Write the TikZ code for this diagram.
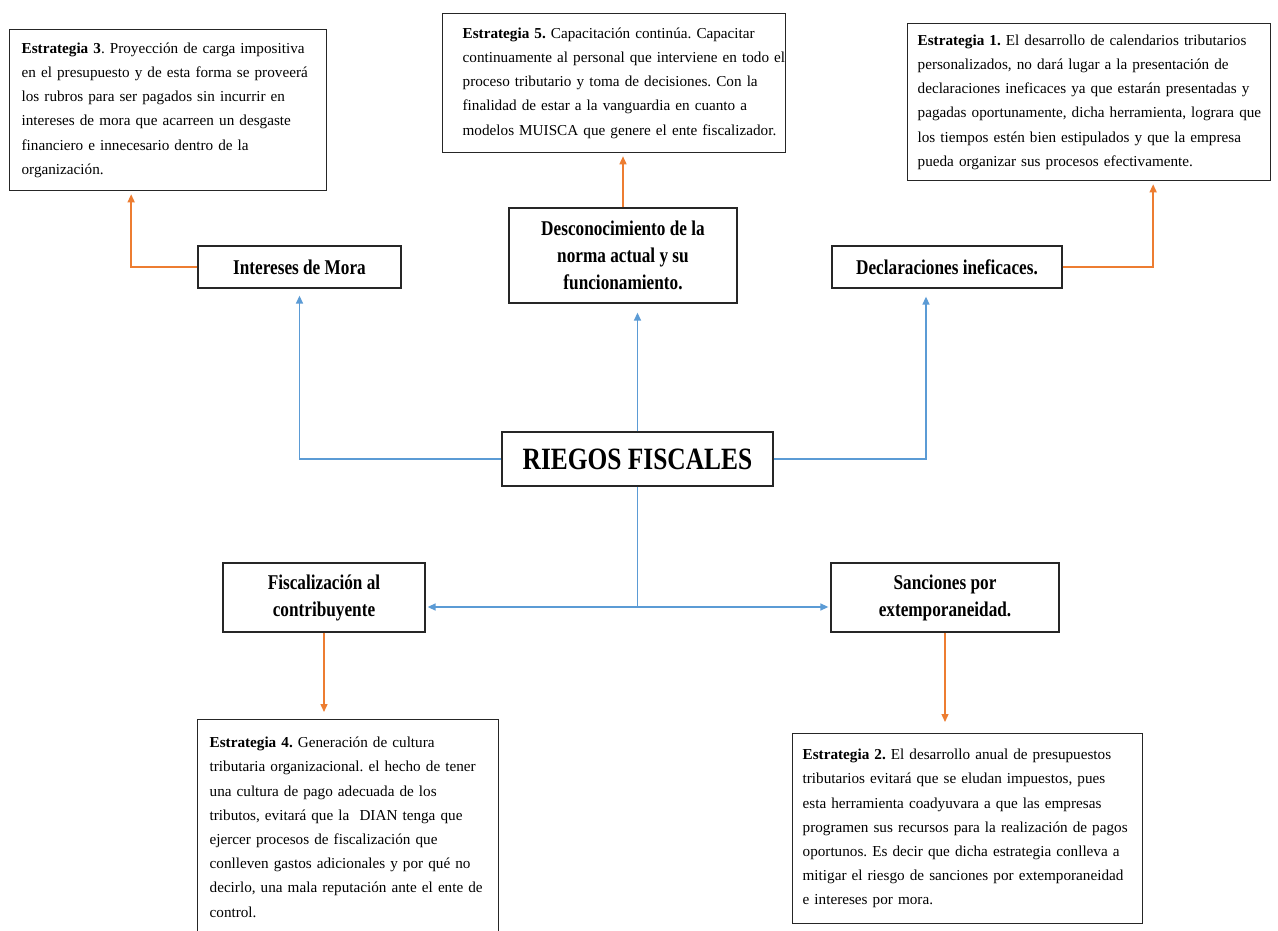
\documentclass[tikz,border=0pt]{standalone}
\usepackage{fontspec}
\setmainfont{Liberation Serif}
\newfontfamily\lblfont{Liberation Serif}[FakeStretch=0.82]
\usepackage{tikz}
\usetikzlibrary{positioning,arrows.meta,calc}
\definecolor{riskblue}{HTML}{5B9BD5}
\definecolor{stratorange}{HTML}{ED7D31}
\frenchspacing

\begin{document}
\begin{tikzpicture}[x=1pt,y=-1pt,
  strat/.style={draw=black!85,line width=1.3pt,anchor=north west,align=left,inner xsep=0pt,inner ysep=4pt,font=\fontsize{15.2}{24.2}\selectfont,execute at begin node={\leftskip=#1pt\hyphenpenalty=10000\relax}},
  strat/.default=12,
  risk/.style={draw=black!85,line width=1.3pt,align=center,inner sep=2pt,font=\lblfont\bfseries\fontsize{21}{27}\selectfont},
  blueln/.style={draw=riskblue,line width=1.4pt},
  orangeln/.style={draw=stratorange,line width=1.4pt},
  arr/.style={-{Triangle[length=8pt,width=7pt]}}]
\useasboundingbox[fill=white] (0,0) rectangle (1278,931);
\node[risk,minimum width=271,minimum height=54,font=\lblfont\bfseries\fontsize{31}{36}\selectfont] (riesgo) at (637.5,459) {RIEGOS FISCALES};
\node[risk,minimum width=203,minimum height=42] (mora) at (299.5,267) {Intereses de Mora};
\node[risk,minimum width=228,minimum height=95] (desc) at (623,255.5) {Desconocimiento de la\\norma actual y su\\funcionamiento.};
\node[risk,minimum width=230,minimum height=42] (decl) at (947,267) {Declaraciones ineficaces.};
\node[risk,minimum width=202,minimum height=69] (fisc) at (324,597.5) {Fiscalización al\\contribuyente};
\node[risk,minimum width=228,minimum height=69] (sanc) at (945,597.5) {Sanciones por\\extemporaneidad.};
\node[strat,minimum height=161,text width=317] (s3) at (9,29) {\textbf{Estrategia 3}. Proyección de carga impositiva\\en el presupuesto y de esta forma se proveerá\\los rubros para ser pagados sin incurrir en\\intereses de mora que acarreen un desgaste\\financiero e innecesario dentro de la\\organización.};
\node[strat=20,minimum height=139,text width=343] (s5) at (442,13) {\textbf{Estrategia 5.} Capacitación continúa. Capacitar\\continuamente al personal que interviene en todo el\\proceso tributario y toma de decisiones. Con la\\finalidad de estar a la vanguardia en cuanto a\\modelos MUISCA que genere el ente fiscalizador.};
\node[strat=10,minimum height=157,text width=363] (s1) at (907,23) {\textbf{Estrategia 1.} El desarrollo de calendarios tributarios\\personalizados, no dará lugar a la presentación de\\declaraciones ineficaces ya que estarán presentadas y\\pagadas oportunamente, dicha herramienta, lograra que\\los tiempos estén bien estipulados y que la empresa\\pueda organizar sus procesos efectivamente.};
\node[strat,minimum height=215,text width=301] (s4) at (197,719) {\textbf{Estrategia 4.} Generación de cultura\\tributaria organizacional. el hecho de tener\\una cultura de pago adecuada de los\\tributos, evitará que la\ \ DIAN tenga que\\ejercer procesos de fiscalización que\\conlleven gastos adicionales y por qué no\\decirlo, una mala reputación ante el ente de\\control.};
\node[strat=10,minimum height=190,text width=350] (s2) at (792,733) {\textbf{Estrategia 2.} El desarrollo anual de presupuestos\\tributarios evitará que se eludan impuestos, pues\\esta herramienta coadyuvara a que las empresas\\programen sus recursos para la realización de pagos\\oportunos. Es decir que dicha estrategia conlleva a\\mitigar el riesgo de sanciones por extemporaneidad\\e intereses por mora.};
\coordinate (split) at (637.5,607);
\draw[blueln,arr,shorten >=7pt] (riesgo.west) -| (mora.south);
\draw[blueln,arr,shorten >=9pt] (riesgo.north) -- (riesgo.north |- desc.south);
\draw[blueln,arr,shorten >=8pt] (riesgo.east) -| ([xshift=-21pt]decl.south);
\draw[blueln] (riesgo.south) -- (split);
\draw[blueln,{Triangle[length=8pt,width=7pt]}-{Triangle[length=8pt,width=7pt]},shorten <=2pt,shorten >=2pt] (split -| fisc.east) -- (split -| sanc.west);
\draw[orangeln,arr,shorten >=3pt] (mora.west) -| ([xshift=-37pt]s3.south);
\draw[orangeln,arr,shorten >=3pt] (desc.north) -- (desc.north |- s5.south);
\draw[orangeln,arr,shorten >=3pt] (decl.east) -| ([xshift=64pt]s1.south);
\draw[orangeln,arr,shorten >=7pt] (fisc.south) -- (fisc.south |- s4.north);
\draw[orangeln,arr,shorten >=11pt] (sanc.south) -- (sanc.south |- s2.north);
\end{tikzpicture}
\end{document}
